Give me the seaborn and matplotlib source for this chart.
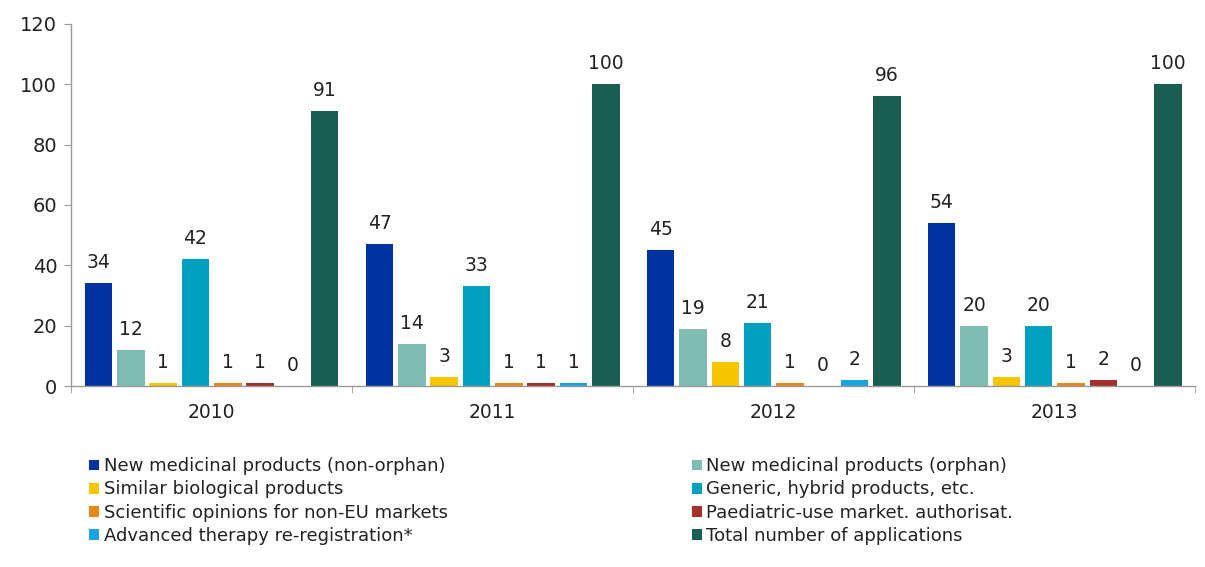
import pandas as pd
import matplotlib.pyplot as plt
import seaborn as sns
from matplotlib.patches import Patch

# Dữ liệu
years = ["2010", "2011", "2012", "2013"]
categories = [
    "New medicinal products (non-orphan)",
    "New medicinal products (orphan)",
    "Similar biological products",
    "Generic, hybrid products, etc.",
    "Scientific opinions for non-EU markets",
    "Paediatric-use market. authorisat.",
    "Advanced therapy re-registration*",
    "Total number of applications",
]
non_orphan = [34, 47, 45, 54]
orphan = [12, 14, 19, 20]
similar_bio = [1, 3, 8, 3]
generic = [42, 33, 21, 20]
non_eu = [1, 1, 1, 1]
paediatric = [1, 1, 0, 2]
advanced = [0, 1, 2, 0]
total = [91, 100, 96, 100]
colors = ["#0033a0", "#7fbcb2", "#f7c600", "#00a0c0",
          "#e8861a", "#a3302a", "#1aa3e0", "#1a5e52"]

series = [non_orphan, orphan, similar_bio, generic, non_eu, paediatric, advanced, total]
rows = []
for cat, vals in zip(categories, series):
    for y, v in zip(years, vals):
        rows.append({"year": y, "category": cat, "value": v})
df = pd.DataFrame(rows)

sns.set_style("white")
plt.rcParams["font.family"] = ["DejaVu Sans"]

fig = plt.figure(figsize=(12.05, 5.67), dpi=100)
ax = fig.add_axes([0.059, 0.319, 0.933, 0.639])

sns.barplot(data=df, x="year", y="value", hue="category", hue_order=categories,
            palette=colors, width=0.92, gap=0.15, legend=False, ax=ax,
            saturation=1, errorbar=None, linewidth=0)

for cont in ax.containers:
    ax.bar_label(cont, padding=8, fontsize=13.5, color="#222222")

ax.set_ylim(0, 120)
ax.set_xlim(-0.5, 3.5)
ax.set_yticks(range(0, 121, 20))
ax.set_xlabel("")
ax.set_ylabel("")
sns.despine(ax=ax)
for s in ["left", "bottom"]:
    ax.spines[s].set_color("#999999")
    ax.spines[s].set_linewidth(1)
ax.tick_params(axis="y", left=True, length=5, color="#999999", labelsize=14,
               pad=5, labelcolor="#222222")
ax.tick_params(axis="x", bottom=False, labelsize=13.5, pad=9, labelcolor="#222222")
ax.set_xticks([-0.5, 0.5, 1.5, 2.5, 3.5], minor=True)
ax.tick_params(axis="x", which="minor", bottom=True, length=5, color="#999999")

handles = [Patch(facecolor=c, edgecolor="none") for c in colors]
leg_kw = dict(frameon=False, fontsize=13, handlelength=0.55, handleheight=0.55,
              handletextpad=0.25, labelspacing=0.28, loc="upper left", borderaxespad=0,
              labelcolor="#222222")
leg1 = fig.legend(handles[0::2], categories[0::2], bbox_to_anchor=(0.068, 0.206), **leg_kw)
leg2 = fig.legend(handles[1::2], categories[1::2], bbox_to_anchor=(0.568, 0.206), **leg_kw)

plt.savefig("out.png", dpi=100)
